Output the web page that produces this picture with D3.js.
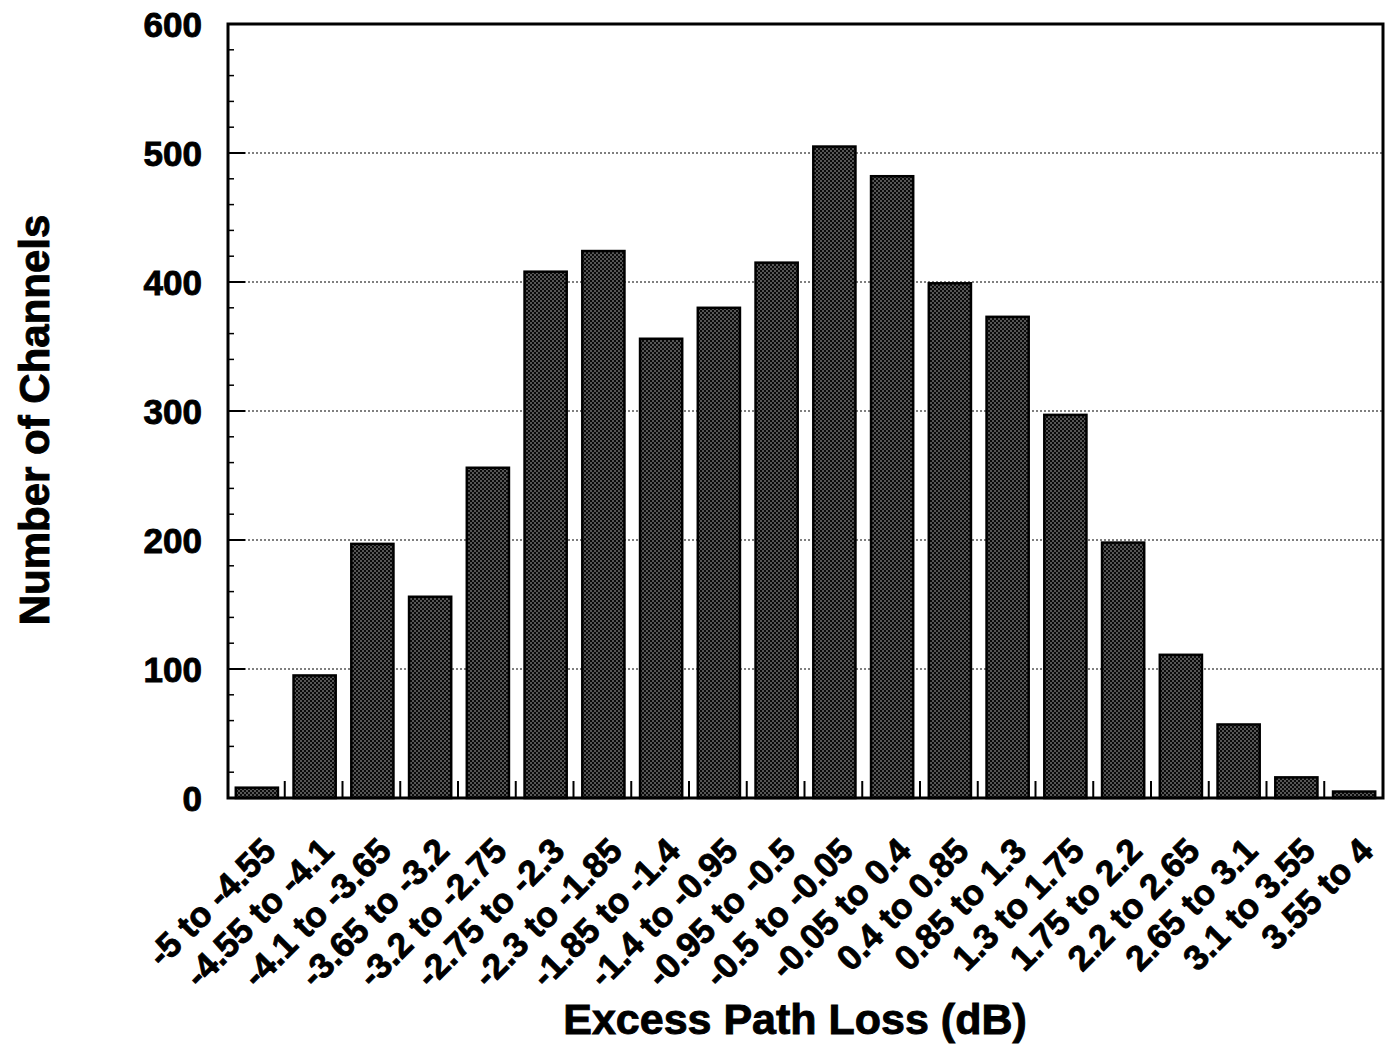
<!DOCTYPE html>
<html>
<head>
<meta charset="utf-8">
<script src="https://cdn.jsdelivr.net/npm/d3@7"></script>
<style>
  html, body { margin: 0; padding: 0; background: #fff; }
  svg { display: block; }
  text { font-family: "Liberation Sans", Arial, sans-serif; font-weight: bold; fill: #000; stroke: #000; stroke-width: 0.9px; }
</style>
</head>
<body>
<svg id="chart" width="1389" height="1062"></svg>
<script>
// ---- data ----
const categories = ["-5 to -4.55", "-4.55 to -4.1", "-4.1 to -3.65", "-3.65 to -3.2", "-3.2 to -2.75",
  "-2.75 to -2.3", "-2.3 to -1.85", "-1.85 to -1.4", "-1.4 to -0.95", "-0.95 to -0.5",
  "-0.5 to -0.05", "-0.05 to 0.4", "0.4 to 0.85", "0.85 to 1.3", "1.3 to 1.75",
  "1.75 to 2.2", "2.2 to 2.65", "2.65 to 3.1", "3.1 to 3.55", "3.55 to 4"];
const channels = [8, 95, 197, 156, 256, 408, 424, 356, 380, 415, 505, 482, 399, 373, 297, 198, 111, 57, 16, 5];
const yTicks = [0, 100, 200, 300, 400, 500, 600];
const yMinorTicks = d3.range(0, 601, 20);
const xTitle = "Excess Path Loss (dB)";
const yTitle = "Number of Channels";

// ---- layout ----
const svg = d3.select("#chart");
const pL = 228, pR = 1383, pT = 24, pB = 798;

const x = d3.scaleBand().domain(categories).range([pL, pR]).paddingInner(0.27).paddingOuter(0.135);
const y = d3.scaleLinear().domain([0, 600]).range([pB, pT]);

svg.append("rect").attr("width", 1389).attr("height", 1062).attr("fill", "#fff");

// stipple pattern
const defs = svg.append("defs");
const pat = defs.append("pattern").attr("id", "stipple").attr("patternUnits", "userSpaceOnUse")
  .attr("width", 4).attr("height", 4);
pat.append("rect").attr("width", 4).attr("height", 4).attr("fill", "#0a0a0a");
pat.append("circle").attr("cx", 1).attr("cy", 1).attr("r", 0.75).attr("fill", "#c8c8c8");
pat.append("circle").attr("cx", 3).attr("cy", 3).attr("r", 0.75).attr("fill", "#c8c8c8");

// gridlines
svg.append("g").selectAll("line").data(yTicks.filter(d => d > 0 && d < 600)).join("line")
  .attr("x1", pL).attr("x2", pR).attr("y1", d => y(d)).attr("y2", d => y(d))
  .attr("stroke", "#000").attr("stroke-width", 1.2).attr("stroke-dasharray", "2,2");

// bars
svg.append("g").selectAll("rect").data(channels).join("rect")
  .attr("x", (d, i) => x(categories[i]))
  .attr("width", x.bandwidth())
  .attr("y", d => y(d))
  .attr("height", d => y(0) - y(d))
  .attr("fill", "url(#stipple)")
  .attr("stroke", "#000").attr("stroke-width", 2.5);

// minor y ticks (inside)
svg.append("g").selectAll("line").data(yMinorTicks.filter(d => d % 100 !== 0)).join("line")
  .attr("x1", pL).attr("x2", pL + 6).attr("y1", d => y(d)).attr("y2", d => y(d))
  .attr("stroke", "#000").attr("stroke-width", 1.5);
// major y ticks (inside)
svg.append("g").selectAll("line").data(yTicks.filter(d => d > 0 && d < 600)).join("line")
  .attr("x1", pL).attr("x2", pL + 17).attr("y1", d => y(d)).attr("y2", d => y(d))
  .attr("stroke", "#000").attr("stroke-width", 2);

// x ticks at category boundaries (inside)
const gapHalf = (x.step() - x.bandwidth()) / 2;
svg.append("g").selectAll("line").data(categories.slice(1)).join("line")
  .attr("x1", d => x(d) - gapHalf - 1).attr("x2", d => x(d) - gapHalf - 1)
  .attr("y1", pB).attr("y2", pB - 17)
  .attr("stroke", "#000").attr("stroke-width", 2);

// frame
svg.append("rect").attr("x", pL).attr("y", pT).attr("width", pR - pL).attr("height", pB - pT)
  .attr("fill", "none").attr("stroke", "#000").attr("stroke-width", 3);

// y tick labels
svg.append("g").selectAll("text").data(yTicks).join("text")
  .attr("x", 202).attr("y", d => y(d)).attr("dy", "0.36em")
  .attr("text-anchor", "end").attr("font-size", 35)
  .text(d => d);

// x tick labels
svg.append("g").selectAll("text").data(categories).join("text")
  .attr("transform", d => `translate(${x(d) + x.bandwidth() / 2 + 21},${853}) rotate(-45)`)
  .attr("text-anchor", "end").attr("font-size", 35)
  .text(d => d);

// axis titles
svg.append("text").attr("x", 795).attr("y", 1034).attr("text-anchor", "middle")
  .attr("font-size", 43).text(xTitle);
svg.append("text").attr("transform", "translate(49,420) rotate(-90)").attr("text-anchor", "middle")
  .attr("font-size", 42).text(yTitle);
</script>
</body>
</html>
